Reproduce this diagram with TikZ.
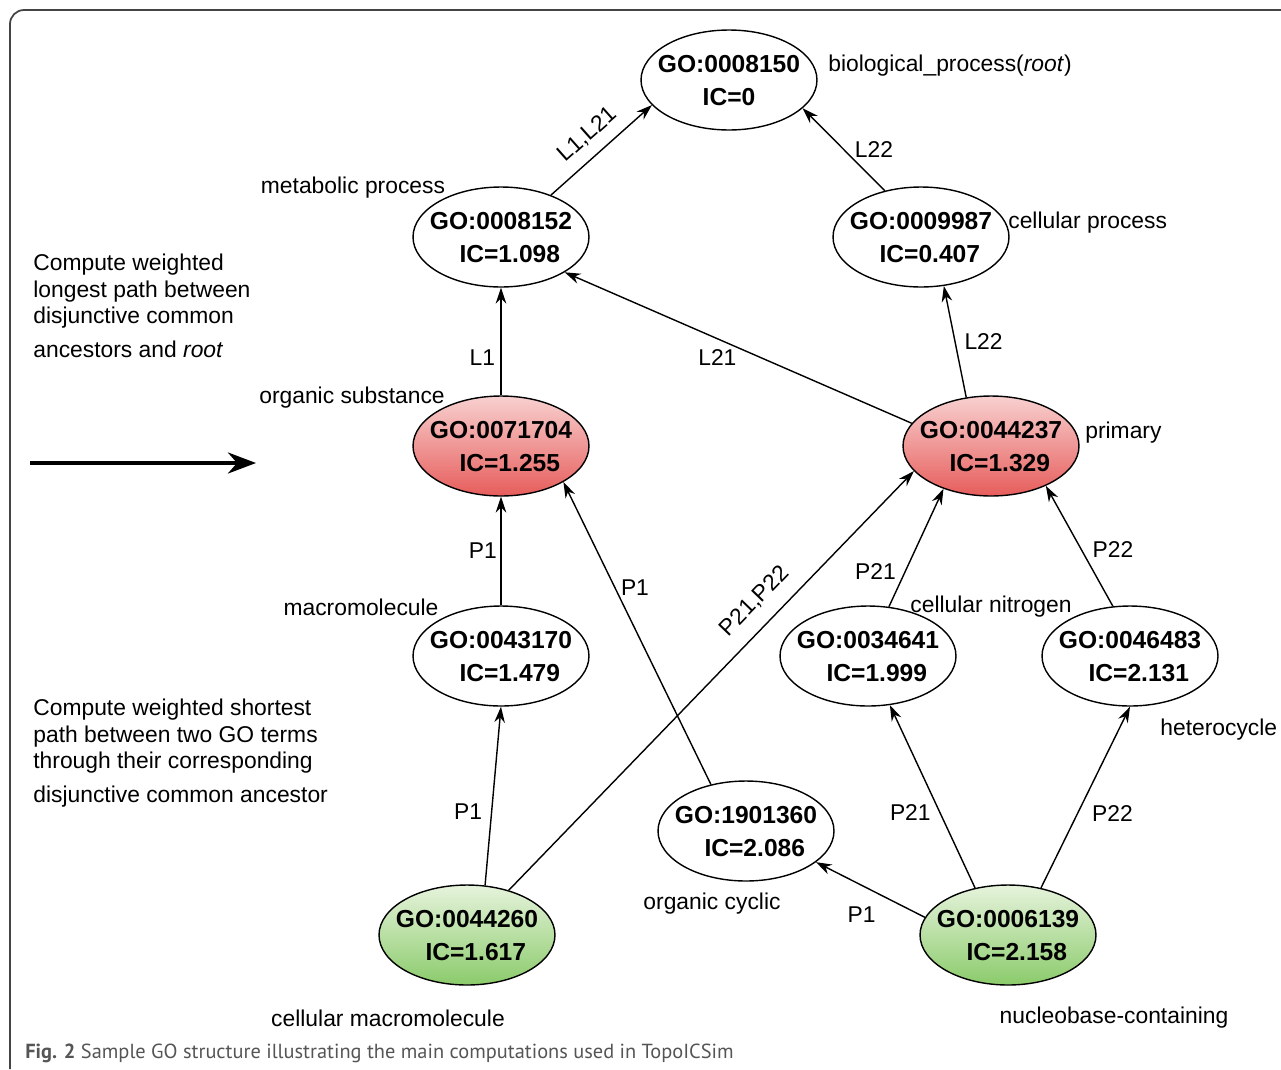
\documentclass[tikz,border=0pt]{standalone}
\usepackage{fontspec}
\setmainfont{Liberation Sans}
\newfontfamily\capfont{PT Sans}
\usetikzlibrary{arrows.meta,shapes.geometric}
\definecolor{redtop}{HTML}{F8D0D0}
\definecolor{redbot}{HTML}{E65D5B}
\definecolor{greentop}{HTML}{E6F3DC}
\definecolor{greenbot}{HTML}{8BCB6B}
\definecolor{framegray}{HTML}{444444}
\definecolor{capgray}{HTML}{555555}
\newcommand{\golbl}[3][\hspace*{10pt}]{\makebox[0pt]{\raisebox{-5.2pt}[0pt][0pt]{\begin{tabular}{@{}c@{}}GO:#2\\[2pt]#1IC=#3\end{tabular}}}}

\begin{document}
\begin{tikzpicture}[x=0.02cm, y=-0.02cm]
  \tikzset{term/.style={ellipse, draw, line width=0.8pt, minimum width=3.52cm,
                        minimum height=2cm, inner sep=0pt,
                        font=\fontsize{14}{17}\selectfont\bfseries},
           dca/.style={term, top color=redtop, bottom color=redbot},
           leaf/.style={term, top color=greentop, bottom color=greenbot},
           termname/.style={font=\fontsize{13}{15}\selectfont, inner sep=0pt},
           isa/.style={line width=0.8pt, -{Stealth[length=9pt,width=6pt]}},
           lbl/.style={font=\fontsize{13}{15}\selectfont, inner sep=2pt}}
  \useasboundingbox (0,0) rectangle (1281,1069);
  % frame and caption
  \coordinate (fbl) at (10,1069);
  \coordinate (ftl) at (10,10);
  \coordinate (ftr) at (1281,10);
  \draw[framegray, line width=1pt, rounded corners=8pt] (fbl) -- (ftl) -- (ftr);
  \node[anchor=west, inner sep=0pt, font=\capfont\fontsize{11.6}{14}\selectfont, text=capgray]
    (caption) at (25,1053) {\textbf{Fig. 2} Sample GO structure illustrating the main computations used in TopoICSim};
  % GO terms
  \node[term] (n8150) at (729,80) {\golbl[]{0008150}{0}};
  \node[term] (n8152) at (501,237) {\golbl{0008152}{1.098}};
  \node[term] (n9987) at (921,237) {\golbl{0009987}{0.407}};
  \node[dca]  (n71704) at (501,446) {\golbl{0071704}{1.255}};
  \node[dca]  (n44237) at (991,446) {\golbl{0044237}{1.329}};
  \node[term] (n43170) at (501,656) {\golbl{0043170}{1.479}};
  \node[term] (n34641) at (868,656) {\golbl{0034641}{1.999}};
  \node[term] (n46483) at (1130,656) {\golbl{0046483}{2.131}};
  \node[term] (n1901360) at (746,831) {\golbl{1901360}{2.086}};
  \node[leaf] (n44260) at (467,935) {\golbl{0044260}{1.617}};
  \node[leaf] (n6139) at (1008,935) {\golbl{0006139}{2.158}};
  % term names
  \node[termname, anchor=west] (rootname) at (828,66) {biological\_process(\textit{root})};
  \node[termname] (metaname) at (353,188) {metabolic process};
  \node[termname, anchor=west] (cellname) at (1008,223) {cellular process};
  \node[termname] (orgname) at (352,398) {organic substance};
  \node[termname, anchor=west] (primname) at (1085,433) {primary};
  \node[termname] (macroname) at (361,607) {macromolecule};
  \node[termname] (nitroname) at (991,607) {cellular nitrogen};
  \node[termname, anchor=west] (heteroname) at (1160,730) {heterocycle};
  \node[termname] (cyclname) at (712,904) {organic cyclic};
  \node[termname] (cmacroname) at (388,1018) {cellular macromolecule};
  \node[termname] (nucname) at (1114,1018) {nucleobase-containing};
  % notes on the left
  \node[termname, anchor=north west, align=left] (longtxt) at (33,254)
    {Compute weighted\\longest path between\\disjunctive common\\[4pt]ancestors and \textit{root}};
  \node[termname, anchor=north west, align=left] (shorttxt) at (33,699)
    {Compute weighted shortest\\path between two GO terms\\through their corresponding\\[4pt]disjunctive common ancestor};
  \coordinate (arrs) at (30,463);
  \coordinate (arre) at (256,463);
  \draw[line width=2pt, -{Stealth[length=16pt,width=12pt]}] (arrs) -- (arre);
  % edges
  \draw[isa] (n8152.40) -- node[lbl, sloped, above=4pt] {L1,L21} (n8150.198);
  \draw[isa] (n9987.128) -- node[lbl, right=4pt] {L22} (n8150.339);
  \draw[isa] (n71704.north) -- node[lbl, pos=0.35, left=1pt] {L1} (n8152.south);
  \draw[isa] (n44237.164) -- node[lbl, pos=0.56, below=4pt] {L21} (n8152.331);
  \draw[isa] (n44237.117) -- node[lbl, right=3pt] {L22} (n9987.295);
  \draw[isa] (n43170.north) -- node[lbl, left=0pt] {P1} (n71704.south);
  \draw[isa] (n1901360.127) -- node[lbl, pos=0.65, right=1pt] {P1} (n71704.330);
  \draw[isa] (n44260.70) -- node[lbl, pos=0.41, left=3pt] {P1} (n43170.south);
  \draw[isa] (n44260.47) -- node[lbl, pos=0.65, sloped, above=6pt] {P21,P22} (n44237.198);
  \draw[isa] (n34641.67) -- node[lbl, pos=0.3, left=3pt] {P21} (n44237.222);
  \draw[isa] (n46483.109) -- node[lbl, pos=0.47, right=4pt] {P22} (n44237.324);
  \draw[isa] (n6139.168) -- node[lbl, pos=0.58, below=10pt] {P1} (n1901360.336);
  \draw[isa] (n6139.125) -- node[lbl, pos=0.41, left=3pt] {P21} (n34641.294);
  \draw[isa] (n6139.55) -- node[lbl, pos=0.41, right=6pt] {P22} (n46483.south);
\end{tikzpicture}
\end{document}
